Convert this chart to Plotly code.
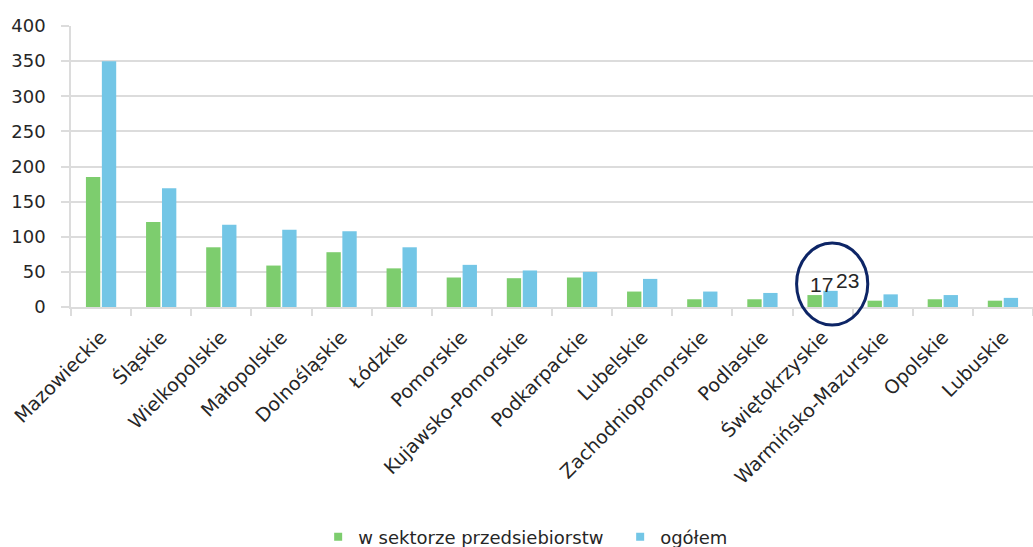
import plotly.graph_objects as go

# Voivodeships, sorted by the total
regions = [
    "Mazowieckie", "Śląskie", "Wielkopolskie", "Małopolskie", "Dolnośląskie",
    "Łódzkie", "Pomorskie", "Kujawsko-Pomorskie", "Podkarpackie", "Lubelskie",
    "Zachodniopomorskie", "Podlaskie", "Świętokrzyskie", "Warmińsko-Mazurskie",
    "Opolskie", "Lubuskie",
]
enterprise_sector = [185, 121, 85, 59, 78, 55, 42, 41, 42, 22, 11, 11, 17, 9, 11, 9]
total = [350, 169, 117, 110, 108, 85, 60, 52, 50, 40, 22, 20, 23, 18, 17, 13]

series_names = ["w sektorze przedsiebiorstw", "ogółem"]
y_ticks = [0, 50, 100, 150, 200, 250, 300, 350, 400]

GREEN = "#7dcd6e"
BLUE = "#73c6e6"
TEXT = "#262626"
GRID = "#dcdcdc"
FONT = "DejaVu Sans"
LABEL_FONT = "Liberation Sans Narrow, Arial Narrow, Liberation Sans"

fig = go.Figure()
fig.add_trace(go.Bar(x=regions, y=enterprise_sector, name=series_names[0],
                     marker=dict(color=GREEN, line=dict(width=0)), showlegend=False))
fig.add_trace(go.Bar(x=regions, y=total, name=series_names[1],
                     marker=dict(color=BLUE, line=dict(width=0)), showlegend=False))

# small square legend keys
for name, col in zip(series_names, [GREEN, BLUE]):
    fig.add_trace(go.Scatter(x=[None], y=[None], mode="markers", name=name,
                             marker=dict(symbol="square", size=8, color=col)))

# highlight for Świętokrzyskie
hi = regions.index("Świętokrzyskie")
n = len(regions)
cx = (hi + 0.5) / n + 0.010
fig.add_shape(type="circle", xref="x domain", yref="y domain",
              x0=cx - 0.037, x1=cx + 0.037, y0=-0.064, y1=0.228,
              line=dict(color="#0d2566", width=3), layer="above")
fig.add_annotation(x=regions[hi], y=enterprise_sector[hi], text=str(enterprise_sector[hi]),
                   xref="x", yref="y", yanchor="bottom", xshift=-1, yshift=-3,
                   showarrow=False, font=dict(family=LABEL_FONT, size=21, color=TEXT))
fig.add_annotation(x=regions[hi], y=total[hi], text=str(total[hi]),
                   xref="x", yref="y", yanchor="bottom", xshift=25, yshift=-3,
                   showarrow=False, font=dict(family=LABEL_FONT, size=21, color=TEXT))

fig.update_layout(
    width=1033, height=547,
    margin=dict(l=71, r=0, t=26, b=240, autoexpand=False),
    paper_bgcolor="white", plot_bgcolor="white",
    barmode="group", bargap=0.47, bargroupgap=0.1,
    font=dict(family=FONT, size=18, color=TEXT),
    legend=dict(orientation="h", xref="container", yref="container",
                x=0.308, xanchor="left", y=0.018, yanchor="middle",
                font=dict(family=FONT, size=18, color=TEXT), entrywidth=257,
                bgcolor="rgba(0,0,0,0)"),
    xaxis=dict(type="category", tickangle=-45, tickson="boundaries",
               ticks="outside", ticklen=7, tickcolor=GRID, tickwidth=1.5,
               showline=True, linecolor=GRID, linewidth=1.5, showgrid=False,
               automargin=False, ticklabelstandoff=10,
               tickfont=dict(family=FONT, size=19, color=TEXT)),
    yaxis=dict(range=[0, 400], tickvals=y_ticks, ticks="outside", ticklen=8,
               tickcolor=GRID, tickwidth=1.5, showline=True, linecolor=GRID, linewidth=1.5,
               showgrid=True, gridcolor=GRID, gridwidth=1.5, zeroline=False,
               automargin=False, ticklabelstandoff=12,
               tickfont=dict(family=FONT, size=18, color=TEXT)),
)

fig.write_html("out.html")
